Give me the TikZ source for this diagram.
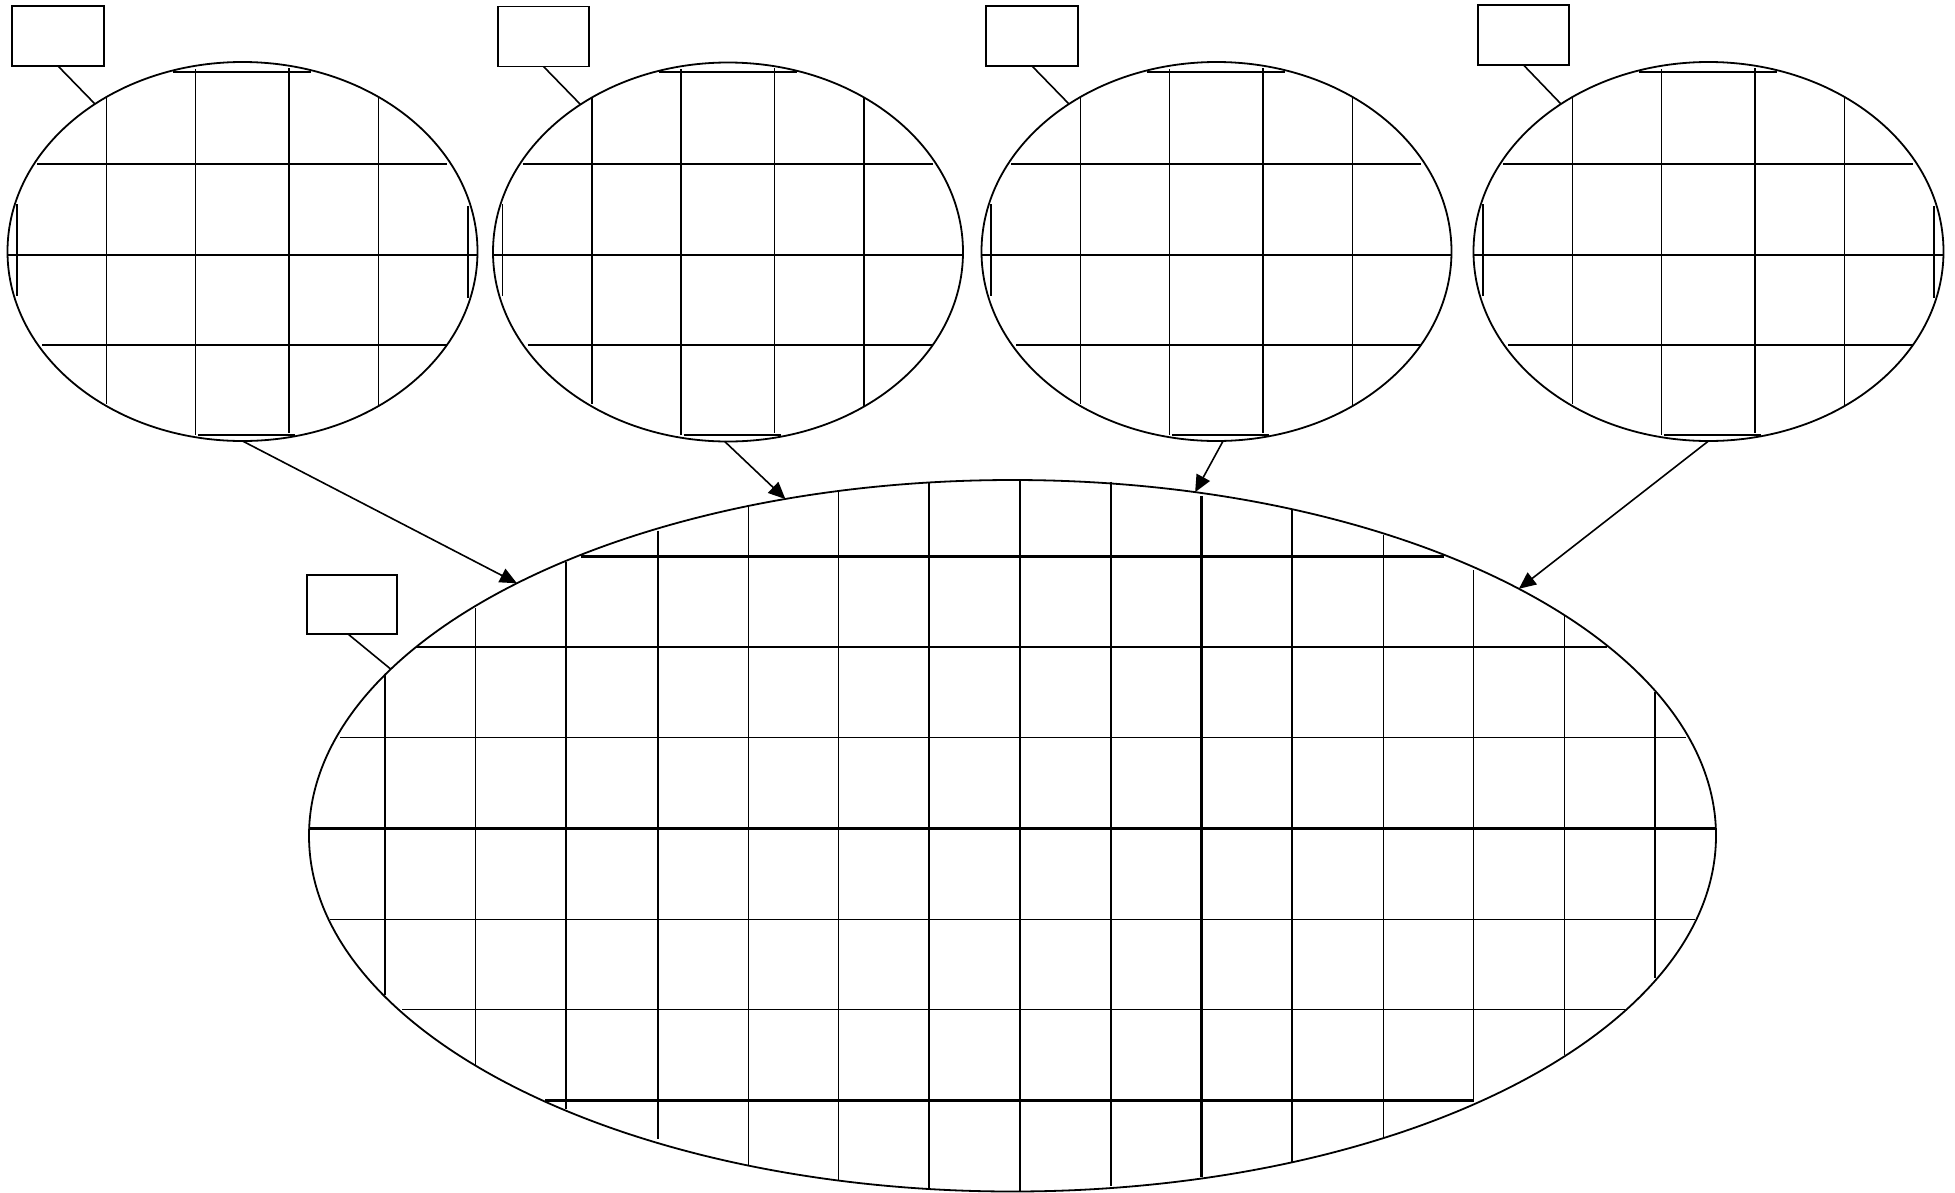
\documentclass[tikz,border=0pt]{standalone}
\usetikzlibrary{shapes.geometric,arrows.meta}
\tikzset{
  wafer/.style={draw, ellipse, line width=1.8pt, inner sep=0pt, outer sep=0pt},
  gridln/.style={line width=1.6pt},
  gridthick/.style={line width=2.5pt},
  labelbox/.style={draw, rectangle, line width=1.7pt, inner sep=0pt, outer sep=0pt, minimum width=91pt, minimum height=60pt},
  leader/.style={line width=1.6pt},
  feed/.style={line width=1.6pt, -{Triangle[length=17pt, width=15pt]}}
}
\begin{document}
\begin{tikzpicture}[x=1pt, y=-1pt]
\useasboundingbox (0,0) rectangle (1955,1192);

% ---- small wafers ----
\node[wafer, minimum width=470pt, minimum height=379pt] (e1) at (242.5,251.5) {};
\node[wafer, minimum width=470pt, minimum height=379pt] (e2) at (728,252) {};
\node[wafer, minimum width=470pt, minimum height=379pt] (e3) at (1216.5,251.5) {};
\node[wafer, minimum width=470pt, minimum height=379pt] (e4) at (1708.5,251.5) {};

\foreach \cx/\lw in {242.5/1.6, 728/1.6, 1216.5/2.7, 1708.5/2.7}{
  \begin{scope}[xshift=\cx pt]
    \draw[gridln] (-136,98) -- (-136,404);
    \draw[gridln] (-47,69) -- (-47,435);
    \draw[gridln] (46.5,68) -- (46.5,433);
    \draw[gridln] (136,98) -- (136,406);
    \draw[gridln] (-225.5,204) -- (-225.5,296);
    \draw[gridln] (-69.5,72) -- (68.5,72);
    \draw[line width=\lw pt] (-205.5,164) -- (204.5,164);
    \draw[gridln] (-234.5,255) -- (234.5,255);
    \draw[gridln] (-200.5,345) -- (204.5,345);
    \draw[gridln] (-44.5,435) -- (52.5,435);
  \end{scope}
}
\draw[gridln] (468,206) -- (468,298);
\draw[gridln] (1934,206) -- (1934,298);

% ---- label boxes ----
\node[labelbox, minimum width=92pt] (b1) at (58,36) {};
\node[labelbox] (b2) at (543.5,36.5) {};
\node[labelbox, minimum width=92pt] (b3) at (1032,36) {};
\node[labelbox] (b4) at (1523.5,35) {};
\node[labelbox, minimum width=90pt, minimum height=59pt] (b5) at (352,604.5) {};

\draw[leader] (b1.south) -- (e1.135);
\draw[leader] (b2.south) -- (e2.135);
\draw[leader] (b3.south) -- (e3.135);
\draw[leader] (b4.south) -- (e4.135);

% ---- big wafer ----
\node[wafer, minimum width=1407pt, minimum height=711.5pt] (big) at (1012.5,835.75) {};
\draw[leader] ([xshift=-4pt]b5.south) -- (big.165);

\foreach \x/\t/\b in {385/674.7/995, 475.3/608.3/1065, 566/561.7/1109.3,
  658/530.7/1139.3, 748.5/506/1165, 838.5/491/1180, 929/481.7/1188,
  1111/481.7/1186, 1292/510/1162, 1383.5/535/1137, 1473.5/570/1100.7,
  1564.3/616/1055, 1655/691.7/978.3}
  \draw[gridln] (\x,\t) -- (\x,\b);
\draw[line width=2pt] (1020,480) -- (1020,1191);
\draw[gridthick] (1201.5,496) -- (1201.5,1177);

\foreach \y/\l/\r in {647/416/1607, 737.5/340/1686, 919.3/330/1695, 1009.5/402/1625}
  \draw[gridln] (\l,\y) -- (\r,\y);
\foreach \y/\l/\r in {556.5/581/1444, 828.3/310/1715.5, 1100.7/545/1473.7}
  \draw[gridthick] (\l,\y) -- (\r,\y);

% ---- connectors ----
\draw[feed] (e1.south) -- (big.153.5);
\draw[feed] (e2.269) -- (big.124.8);
\draw[feed] (e3.272.5) -- (big.62.4);
\draw[feed] (e4.south) -- (big.26.6);
\end{tikzpicture}
\end{document}
